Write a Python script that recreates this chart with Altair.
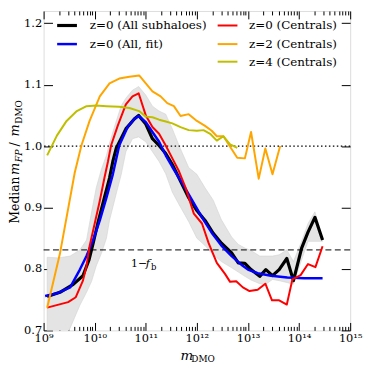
import altair as alt
import pandas as pd

# ---------------- data (log10 m_DMO, median ratio) ----------------
BLACK_LOGM = [9.07, 9.32, 9.58, 9.77, 9.89, 9.97, 10.06, 10.19, 10.29, 10.355, 10.42, 10.61, 10.775,
              10.86, 11.0, 11.13, 11.26, 11.39, 11.52, 11.65, 11.84, 12.0, 12.16, 12.32, 12.48, 12.68,
              12.81, 12.94, 13.06, 13.23, 13.35, 13.48, 13.61, 13.76, 13.89, 14.05, 14.175, 14.31, 14.46]
BLACK_Y = [0.755, 0.762, 0.775, 0.789, 0.815, 0.842, 0.874, 0.916, 0.948, 0.975, 0.996, 1.028, 1.044,
           1.050, 1.036, 1.012, 1.001, 0.988, 0.970, 0.948, 0.916, 0.895, 0.879, 0.858, 0.842, 0.826,
           0.810, 0.809, 0.799, 0.788, 0.799, 0.789, 0.799, 0.817, 0.781, 0.834, 0.860, 0.884, 0.847]

BLUE_LOGM = [9.03, 9.25, 9.52, 9.71, 9.84, 9.97, 10.10, 10.23, 10.355, 10.48, 10.645, 10.775, 10.86,
             11.0, 11.13, 11.26, 11.39, 11.52, 11.71, 11.90, 12.10, 12.29, 12.48, 12.68, 12.87, 13.0,
             13.19, 13.45, 13.77, 14.10, 14.46]
BLUE_Y = [0.756, 0.760, 0.770, 0.799, 0.821, 0.847, 0.879, 0.916, 0.954, 1.001, 1.031, 1.044, 1.049,
          1.039, 1.023, 1.007, 0.985, 0.966, 0.940, 0.913, 0.884, 0.859, 0.838, 0.821, 0.807, 0.799,
          0.793, 0.789, 0.786, 0.785, 0.785]

RED_LOGM = [9.07, 9.48, 9.63, 9.77, 9.84, 9.90, 10.0, 10.10, 10.19, 10.26, 10.32, 10.45, 10.61, 10.74,
            10.86, 11.0, 11.13, 11.26, 11.39, 11.52, 11.65, 11.78, 11.94, 12.10, 12.23, 12.39, 12.55,
            12.65, 12.77, 12.90, 13.03, 13.19, 13.34, 13.47, 13.61, 13.76, 13.87, 14.03, 14.175, 14.32,
            14.46]
RED_Y = [0.737, 0.746, 0.754, 0.781, 0.805, 0.837, 0.874, 0.911, 0.948, 0.975, 1.001, 1.033, 1.068,
         1.081, 1.086, 1.050, 1.031, 1.020, 1.001, 0.980, 0.959, 0.932, 0.890, 0.874, 0.842, 0.810,
         0.792, 0.779, 0.780, 0.770, 0.764, 0.766, 0.776, 0.749, 0.749, 0.742, 0.783, 0.790, 0.808,
         0.803, 0.837]

ORANGE_LOGM = [9.07, 9.32, 9.61, 9.74, 9.90, 10.10, 10.29, 10.48, 10.68, 10.87, 11.0, 11.13, 11.29,
               11.42, 11.55, 11.68, 11.84, 12.0, 12.16, 12.29, 12.39, 12.52, 12.65, 12.79, 12.94, 13.06,
               13.21, 13.34, 13.48, 13.63]
ORANGE_Y = [0.737, 0.825, 0.957, 1.001, 1.041, 1.081, 1.102, 1.110, 1.113, 1.115, 1.102, 1.089, 1.081,
            1.070, 1.065, 1.049, 1.052, 1.041, 1.033, 1.025, 1.016, 1.016, 0.999, 0.981, 0.980, 1.023,
            0.947, 0.996, 0.954, 1.000]

OLIVE_LOGM = [9.07, 9.26, 9.45, 9.65, 9.84, 10.03, 10.23, 10.48, 10.68, 10.87, 11.0, 11.13, 11.26,
              11.39, 11.52, 11.68, 11.84, 12.0, 12.13, 12.26, 12.39, 12.52, 12.65, 12.79]
OLIVE_Y = [0.985, 1.017, 1.041, 1.057, 1.065, 1.066, 1.065, 1.064, 1.062, 1.057, 1.048, 1.047, 1.043,
           1.040, 1.037, 1.031, 1.026, 1.025, 1.026, 1.020, 1.009, 1.016, 1.003, 0.997]

BAND_LOGM = [9.07, 9.29, 9.52, 9.71, 9.84, 9.94, 10.03, 10.13, 10.23, 10.29, 10.42, 10.52, 10.61,
             10.74, 10.86, 11.0, 11.13, 11.26, 11.39, 11.52, 11.65, 11.84, 12.0, 12.16, 12.32, 12.48,
             12.68, 12.81, 12.94, 13.06, 13.23, 13.35, 13.48, 13.61, 13.76, 13.89, 14.05, 14.175,
             14.31, 14.46]
BAND_LO = [0.62, 0.66, 0.704, 0.741, 0.762, 0.780, 0.805, 0.825, 0.850, 0.879, 0.922, 0.954, 0.991,
           1.012, 1.015, 1.007, 0.991, 0.975, 0.955, 0.925, 0.905, 0.877, 0.850, 0.838, 0.823, 0.812,
           0.802, 0.795, 0.788, 0.782, 0.776, 0.775, 0.783, 0.781, 0.778, 0.775, 0.815, 0.845, 0.845,
           0.845]
BAND_HI = [0.819, 0.818, 0.821, 0.831, 0.847, 0.893, 0.932, 0.962, 0.985, 1.005, 1.040, 1.066, 1.078,
           1.091, 1.097, 1.083, 1.065, 1.057, 1.052, 1.028, 1.001, 0.965, 0.954, 0.932, 0.912, 0.880,
           0.852, 0.840, 0.834, 0.830, 0.821, 0.821, 0.821, 0.823, 0.831, 0.812, 0.845, 0.874, 0.893,
           0.850]

F_B = 0.169

LEGEND_LABELS = ["z=0 (All subhaloes)", "z=0 (All, fit)", "z=0 (Centrals)", "z=2 (Centrals)", "z=4 (Centrals)"]
LEGEND_COLORS = ["#000000", "#0000ff", "#ff0000", "#ffa500", "#bfbf00"]
LEGEND_WIDTHS = [3.2, 2.5, 2.0, 2.0, 2.0]

X_MAJOR = [1e9, 1e10, 1e11, 1e12, 1e13, 1e14, 1e15]
X_MINOR = [k * 10 ** e for e in range(9, 15) for k in range(2, 10)]
Y_MAJOR = [0.7, 0.8, 0.9, 1.0, 1.1, 1.2]

FONT = "DejaVu Serif"
XS = alt.Scale(type="log", domain=[1e9, 1e15], nice=False)
YS = alt.Scale(domain=[0.7, 1.22], nice=False, zero=False)

SUP = "['⁰','¹','²','³','⁴','⁵','⁶','⁷','⁸','⁹']"
EXP = "round(log(datum.value)/LN10)"
LABEL_EXPR = f"'10' + ({EXP} >= 10 ? '¹' : '') + {SUP}[{EXP} % 10]"


def axis(orient, values, size, labels=False, **kw):
    return alt.Axis(orient=orient, values=values, tickSize=size, offset=-size, domain=False,
                    grid=False, labels=labels, tickColor="black", tickWidth=1, title=None, **kw)


AX_XB = axis("bottom", X_MAJOR, 8, labels=True, labelExpr=LABEL_EXPR, labelFont=FONT,
             labelFontSize=11.5, labelColor="black", labelPadding=2, labelFlush=False,
             labelOverlap=False, labelBound=False)
AX_XB_MIN = axis("bottom", X_MINOR, 4)
AX_XT = axis("top", X_MAJOR, 8)
AX_XT_MIN = axis("top", X_MINOR, 4)
AX_YL = axis("left", Y_MAJOR, 9, labels=True, format=".1f", labelFont=FONT, labelFontSize=11.5,
             labelColor="black", labelPadding=2, labelFlush=False, labelOverlap=False)
AX_YR = axis("right", Y_MAJOR, 9)


def series_df(logm, vals):
    return pd.DataFrame({"m": [10 ** v for v in logm], "v": vals})


band_df = pd.DataFrame({"m": [10 ** v for v in BAND_LOGM], "lo": BAND_LO, "hi": BAND_HI})

band = alt.Chart(band_df).mark_area(color="#e4e4e4", stroke="#d2d2d2", strokeWidth=0.6, clip=True).encode(
    x=alt.X("m:Q", scale=XS, axis=AX_XB),
    y=alt.Y("lo:Q", scale=YS, axis=AX_YL),
    y2="hi:Q",
)


def line(logm, vals, color, width, xax=None, yax=None):
    return alt.Chart(series_df(logm, vals)).mark_line(
        color=color, strokeWidth=width, clip=True, strokeJoin="round"
    ).encode(
        x=alt.X("m:Q", scale=XS, axis=xax),
        y=alt.Y("v:Q", scale=YS, axis=yax),
    )


one = pd.DataFrame({"a": [0]})
dotted = alt.Chart(one).mark_rule(color="black", strokeDash=[1.5, 2.5], strokeWidth=1.3).encode(
    y=alt.Y(datum=1.0, type="quantitative", scale=YS, axis=None))
dashed = alt.Chart(one).mark_rule(color="black", strokeDash=[6, 3.5], strokeWidth=1).encode(
    y=alt.Y(datum=1 - F_B, type="quantitative", scale=YS, axis=None))

black = line(BLACK_LOGM, BLACK_Y, LEGEND_COLORS[0], 3.2, AX_XB_MIN, AX_YR)
blue = line(BLUE_LOGM, BLUE_Y, LEGEND_COLORS[1], 2.5, AX_XT)
red = line(RED_LOGM, RED_Y, LEGEND_COLORS[2], 2.0, AX_XT_MIN)
orange = line(ORANGE_LOGM, ORANGE_Y, LEGEND_COLORS[3], 2.0)
olive = line(OLIVE_LOGM, OLIVE_Y, LEGEND_COLORS[4], 2.0)


def txt(s, x, y, size, italic=False, angle=0, align="left", baseline="alphabetic"):
    kw = dict(font=FONT, fontSize=size, align=align, baseline=baseline, color="black")
    if italic:
        kw["fontStyle"] = "italic"
    if angle:
        kw["angle"] = angle
    return alt.Chart(one).mark_text(**kw).encode(
        x=alt.value(x), y=alt.value(y), text=alt.value(s))


texts = []
# legend
leg_pos = [(13.7, 46.7, 14.7), (13.7, 46.7, 33.5), (176.0, 207.7, 14.7), (176.0, 207.7, 33.5), (176.0, 207.7, 51.3)]
for lab, col, w, (lx, tx, ty) in zip(LEGEND_LABELS, LEGEND_COLORS, LEGEND_WIDTHS, leg_pos):
    texts.append(alt.Chart(one).mark_rule(color=col, strokeWidth=w).encode(
        x=alt.value(lx), x2=alt.value(lx + 20), y=alt.value(ty)))
    texts.append(txt(lab, tx, ty, 12, baseline="middle"))

# 1 - f_b annotation
texts += [
    txt("1−", 88.4, 259.0, 11),
    txt("f", 103.4, 259.0, 11.5, italic=True),
    txt("b", 108.6, 261.5, 8.5),
]

# x-axis title
texts += [
    txt("m", 138.4, 352.5, 13.5, italic=True),
    txt("DMO", 149.4, 354.5, 9),
]

# y-axis title (rotated)
YB = -24.8
texts += [
    txt("Median", YB, 215, 12.5, angle=270),
    txt("m", YB, 166, 13, italic=True, angle=270),
    txt("FP", YB + 3, 153, 9.5, italic=True, angle=270),
    txt("/", YB, 137, 13, angle=270),
    txt("m", YB, 127, 13, italic=True, angle=270),
    txt("DMO", YB + 3, 114, 9, angle=270),
]

chart = alt.layer(band, dotted, dashed, black, blue, red, orange, olive, *texts).resolve_axis(
    x="independent", y="independent"
).properties(
    width=310, height=323,
    autosize=alt.AutoSizeParams(type="none"),
    padding={"left": 36, "top": 1, "right": 15, "bottom": 32},
).configure_view(stroke="black", strokeWidth=1.2).configure(background="white")

chart.save("out.html", embed_options={"renderer": "svg", "actions": False})
